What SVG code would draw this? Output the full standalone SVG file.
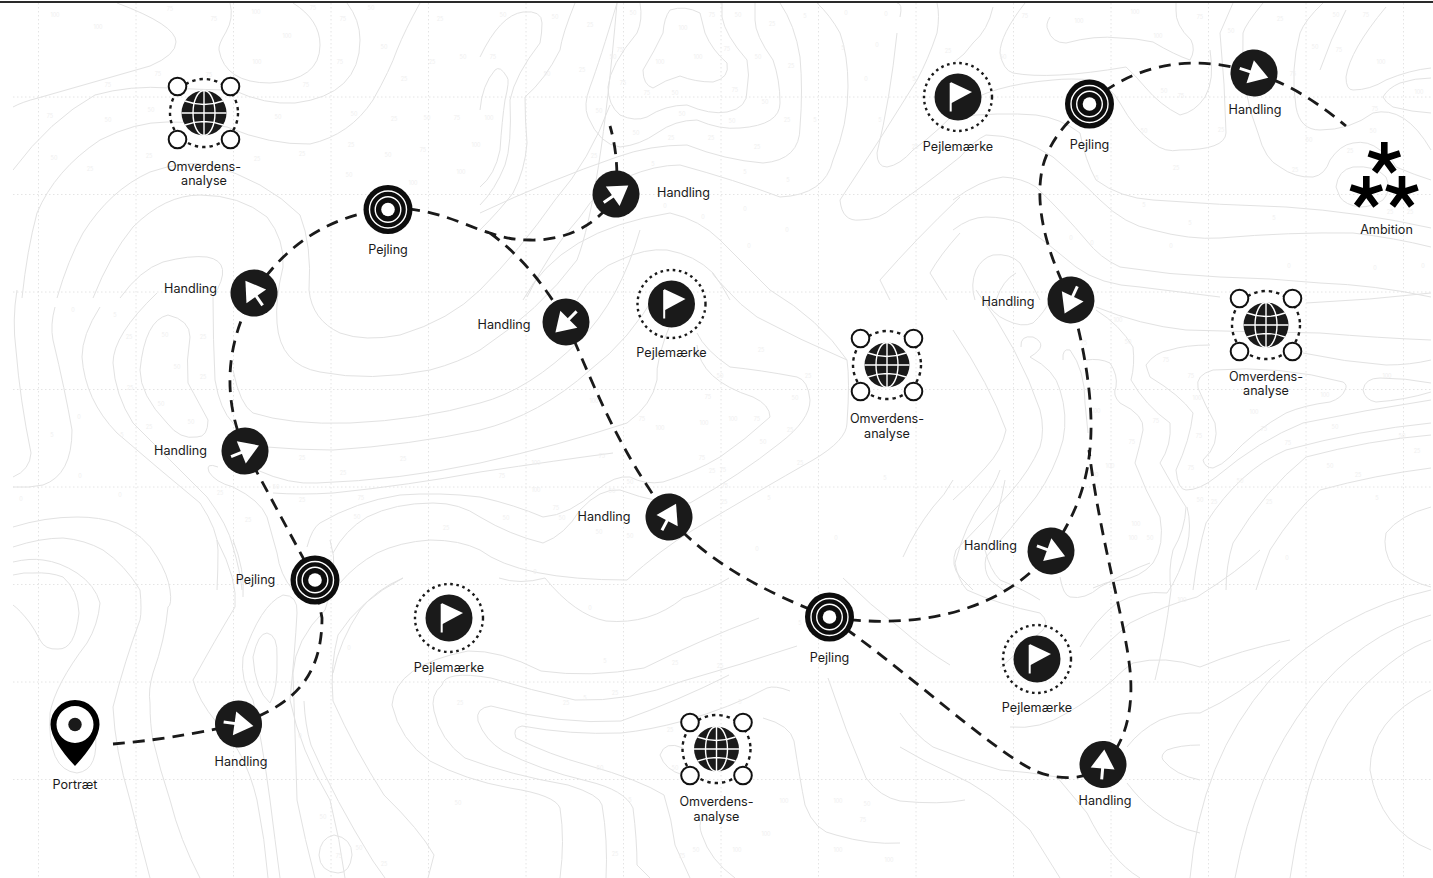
<svg xmlns="http://www.w3.org/2000/svg" width="1433" height="878" viewBox="0 0 1433 878">
<style>
text{font-family:Inter,"Liberation Sans",sans-serif}
.l{font-size:12.6px;fill:#1a1a1a;text-anchor:middle}
.n{font-size:5.5px;fill:#efefef;text-anchor:middle}
.grid{stroke:#e4e4e4;stroke-width:1;stroke-dasharray:1.5 2.5;fill:none}
.contour{stroke:#e2e2e2;stroke-width:1;fill:none}
.conn{stroke:#1a1a1a;stroke-width:2.8;stroke-dasharray:12 8;fill:none}
.ink{fill:#1a1a1a}
.w{stroke:#fff;fill:none}
.wf{fill:#fff}
</style>
<defs>
<clipPath id="cp"><rect x="13" y="3" width="1420" height="875"/></clipPath>
<g id="arrow"><circle r="23.500" class="ink"/><path d="M-15,0H1" class="w" stroke-width="3"/><path d="M-4,-12L15,0L-4,12Z" class="wf"/></g>
<g id="target"><circle r="24.500" fill="#0d0d0d"/><circle r="18.500" class="w" stroke-width="1.400"/><circle r="12.800" class="w" stroke-width="1.400"/><circle r="6.800" class="wf"/></g>
<g id="flag"><circle r="34" fill="none" stroke="#1a1a1a" stroke-width="2.400" stroke-dasharray="2.600 3.600"/><circle r="23.500" class="ink"/><path d="M-7.300,14.500V-14" class="w" stroke-width="2"/><path d="M-7.300,-15L14,-5L-7.300,6.500Z" class="wf"/></g>
<g id="globe"><circle r="34" fill="none" stroke="#1a1a1a" stroke-width="2.400" stroke-dasharray="3.400 4"/><circle r="22.500" class="ink"/><ellipse rx="11" ry="22.500" class="w" stroke-width="1.400"/><path d="M0,-22.500V22.500M-22.500,0H22.500M-19,-12Q0,-5 19,-12M-19,12Q0,5 19,12" class="w" stroke-width="1.400"/><g fill="#fff" stroke="#111" stroke-width="2"><circle cx="-26.500" cy="-26.500" r="8.800"/><circle cx="26.500" cy="-26.500" r="8.800"/><circle cx="-26.500" cy="26.500" r="8.800"/><circle cx="26.500" cy="26.500" r="8.800"/></g></g>
<g id="star" stroke="#000" stroke-width="6.600"><path d="M0,0V-16.500M0,0L15.700,-5.100M0,0L9.700,13.300M0,0L-9.700,13.300M0,0L-15.700,-5.100"/></g>
</defs>
<rect width="1433" height="878" fill="#fff"/>
<g id="background">
<path class="grid" d="M13,97H1433M13,194.500H1433M13,292H1433M13,389.500H1433M13,487H1433M13,584.500H1433M13,682H1433M13,779.500H1433M38.500,3V878M136,3V878M233.500,3V878M331,3V878M428.500,3V878M526,3V878M623.500,3V878M721,3V878M818.500,3V878M916,3V878M1013.500,3V878M1111,3V878M1208.500,3V878M1306,3V878M1403.500,3V878"/>
<g clip-path="url(#cp)" class="contour">
<path d="M117,3Q176,25 176,42Q176,55 150,66L38,98Q22,102 13,107"/>
<path d="M230,3Q234,18 226,32Q218,45 219,50Q225,83 270,83Q320,80 320,45Q320,20 293,3"/>
<path d="M13,170Q50,120 95,95Q130,85 170,88Q210,90 233,90Q265,105 295,103Q360,95 360,40Q360,20 347,3"/>
<path d="M22,298Q27,250 37,213Q55,170 100,140Q135,122 167,122Q200,122 227,127Q270,145 310,144Q350,135 373,100Q390,70 397,50Q405,30 420,3"/>
<path d="M57,298Q68,260 83,233Q110,190 150,172Q185,160 210,165Q265,180 300,215Q312,245 309,290Q312,320 340,333Q365,342 400,335Q450,320 480,290Q520,250 555,200Q590,160 610,105"/>
<path d="M93,298Q110,255 133,227Q165,195 200,195Q240,195 267,217Q285,240 283,267Q275,300 277,323Q280,365 320,372Q370,382 430,370Q460,362 480,350Q540,310 577,260Q600,200 617,3"/>
<path d="M120,298Q140,270 163,262Q190,255 207,257Q235,262 213,297Q213,340 215,380Q220,410 233,423"/>
<path d="M17,290Q12,320 16,350Q20,400 31,453Q30,470 13,477"/>
<path d="M55,307Q50,325 53,340Q65,390 72,430Q72,475 43,485Q30,488 13,487"/>
<path d="M100,307Q82,335 82,357Q85,400 117,433Q160,470 200,503Q218,530 218,550Q218,570 217,590"/>
<path d="M157,293Q113,335 113,363Q115,395 133,423Q170,460 207,497Q228,525 233,547Q240,570 242,590"/>
<path d="M168,315Q190,320 190,337Q186,360 188,383Q200,405 208,420Q208,437 197,437Q180,440 167,423Q140,395 140,370Q145,320 168,315Z"/>
<path d="M233,370Q240,405 253,413Q290,425 350,423Q420,420 480,403Q530,390 580,340Q620,300 640,230"/>
<path d="M267,447Q300,450 333,450Q410,445 480,430Q540,415 590,370Q630,340 658,290"/>
<path d="M257,470Q290,485 317,483Q400,480 480,463Q560,445 627,423Q652,405 657,380Q655,360 672,320"/>
<path d="M273,493Q300,495 333,493Q410,485 480,472Q560,460 613,453"/>
<path d="M218,467Q205,462 209,472Q215,482 233,487Q260,500 267,517Q272,535 277,553Q280,575 293,590"/>
<path d="M307,547Q312,528 320,523Q355,502 400,495Q440,492 480,497Q515,505 543,517Q570,515 597,490Q615,475 630,477Q645,485 663,482Q695,472 720,457Q745,440 770,417Q770,405 753,397Q700,380 697,345"/>
<path d="M333,553Q345,530 367,517Q395,503 433,503Q460,503 480,517Q510,535 543,543Q565,535 580,510Q600,488 620,490Q660,505 690,503Q740,475 780,443Q810,420 810,400Q808,380 797,377Q760,370 730,367Q705,350 697,333"/>
<path d="M340,583Q355,565 377,553Q400,542 430,540Q460,540 480,550Q520,580 627,580Q660,550 693,530Q760,490 813,460Q847,440 847,423Q850,380 847,360Q800,340 757,317Q740,305 727,290Q710,272 713,273"/>
<path d="M13,527Q45,517 77,517Q100,517 117,523Q145,535 157,557Q168,575 170,590Q172,605 168,607Q165,640 153,673Q148,690 150,703Q150,725 153,740Q160,770 170,800Q180,840 200,878"/>
<path d="M13,547Q40,538 63,538Q85,540 103,550Q125,565 140,590Q142,610 140,620Q125,660 113,707Q115,750 130,800Q140,840 150,878"/>
<path d="M13,562Q30,558 43,560Q60,562 77,573Q95,585 100,603Q98,625 87,643Q55,685 50,713Q47,770 77,773Q100,770 95,730"/>
<path d="M13,575Q25,572 33,573Q50,572 63,577Q78,590 79,613Q75,650 58,649Q45,650 40,640Q35,630 30,623Q20,610 13,605"/>
<path d="M253,657Q258,633 267,633Q278,635 277,657Q278,690 270,703Q255,690 253,657Z"/>
<path d="M243,657Q260,605 283,595Q298,595 297,613Q295,650 290,700Q300,750 330,800Q340,840 345,878"/>
<path d="M243,657Q240,680 253,700Q262,740 270,800Q275,840 280,878"/>
<path d="M217,540Q238,580 235,607Q215,640 193,680Q198,700 217,723Q245,750 257,800Q265,840 268,878"/>
<path d="M233,540Q245,570 243,597"/>
<path d="M330,540Q340,570 325,610Q295,640 293,673Q295,730 297,800Q305,840 315,878"/>
<path d="M333,673Q340,640 360,610Q375,590 403,578Q360,600 338,635Q330,665 333,701Q355,750 384,795Q420,830 434,855L428,878"/>
<path d="M304,701Q305,725 311,745Q335,800 373,861L385,878"/>
<path d="M334,835Q352,838 352,855Q350,873 338,873Q320,872 319,855Q320,838 334,835Z"/>
<path d="M759,618Q700,640 644,668Q590,678 541,671Q500,650 468,651Q395,665 392,705Q400,740 430,761Q465,780 510,788Q555,795 560,808Q565,840 560,878"/>
<path d="M797,646Q740,665 683,681Q630,702 575,700Q530,690 491,678Q445,670 442,685Q430,695 434,711Q440,740 465,758Q510,775 568,785Q600,795 602,805Q608,840 606,878"/>
<path d="M729,675Q680,700 621,721Q560,725 491,706Q475,708 478,721Q485,740 503,751Q540,770 587,781Q625,790 633,808Q637,840 637,865L650,878"/>
<path d="M790,691Q775,685 767,688Q730,708 683,721Q650,730 621,733Q570,735 522,726Q512,728 516,738Q550,755 587,765Q640,780 664,795Q672,820 675,845L690,878"/>
<path d="M763,718Q790,725 794,741Q800,780 805,805Q815,832 836,835Q870,845 900,843"/>
<path d="M683,748Q665,740 660,755Q665,770 683,775M702,818Q698,825 702,835Q710,860 735,878"/>
<path d="M499,578Q520,585 545,578Q575,615 606,621Q650,625 683,598Q710,590 729,578"/>
<path d="M843,578Q870,605 900,628Q925,650 950,665M828,678Q845,730 866,778Q880,797 900,801Q940,805 965,800"/>
<path d="M480,187Q495,175 500,150Q502,120 505,100Q510,80 507,77Q500,65 495,70Q482,85 480,110"/>
<path d="M480,57Q500,15 523,12Q542,10 542,23Q542,33 540,43Q515,75 510,100Q512,145 505,165Q495,190 480,205"/>
<path d="M575,3Q562,35 560,50Q545,80 525,97Q525,120 527,143Q525,170 513,193Q500,210 480,230"/>
<path d="M670,10Q685,5 700,13Q703,25 705,33Q712,50 727,63Q730,78 713,82Q695,82 680,76Q665,80 653,88Q643,85 643,70Q655,50 663,33Q664,18 670,10Z"/>
<path d="M640,3Q643,20 637,33Q610,65 608,87Q608,105 620,115Q635,122 647,117Q665,105 687,105Q710,115 727,112Q748,108 747,90Q750,75 747,60Q725,35 722,17V3"/>
<path d="M617,3Q600,60 590,87Q583,105 588,117Q600,145 620,147Q640,145 657,133Q675,120 697,120Q720,130 740,128Q780,125 780,103Q780,80 773,60Q755,35 755,20V3"/>
<path d="M480,213Q550,180 617,157Q650,145 687,145Q725,160 763,163Q800,160 800,127Q803,90 800,57Q795,25 780,3"/>
<path d="M527,297Q550,250 580,217Q600,185 627,177Q655,165 680,165Q735,180 780,197Q825,195 833,160Q848,125 848,87Q848,55 840,33Q830,15 817,3"/>
<path d="M523,300Q560,230 670,213Q700,220 720,240Q745,265 770,290Q820,320 847,360"/>
<path d="M577,300Q595,268 620,260Q645,248 667,250Q695,255 713,273Q722,285 730,300"/>
<path d="M900,17Q903,3 897,3M897,33Q890,100 877,153Q877,167 887,167Q900,165 913,150Q940,130 960,107Q990,85 1053,80Q1070,78 1093,80Q1110,85 1120,103Q1135,130 1153,143Q1165,153 1180,150Q1225,150 1226,133Q1225,85 1220,33L1233,3"/>
<path d="M937,3Q940,15 937,33Q928,60 917,80Q880,140 840,200Q842,222 860,220Q880,220 893,207Q925,185 960,157Q975,140 986,135Q1020,135 1053,157Q1080,180 1100,200Q1125,225 1153,230Q1190,240 1220,238Q1290,232 1353,233Q1395,238 1431,247"/>
<path d="M960,197Q915,240 880,280L890,300"/>
<path d="M960,233Q940,255 930,273L947,300"/>
<path d="M993,7Q988,30 973,43Q965,55 953,63"/>
<path d="M1025,3Q1000,35 1000,53Q1003,70 1013,73Q1050,80 1126,67Q1135,75 1145,87Q1160,105 1180,115Q1195,112 1205,97Q1215,80 1210,50"/>
<path d="M1050,17Q1045,25 1048,30Q1052,43 1066,43Q1095,35 1120,38Q1135,38 1153,42Q1175,55 1190,60Q1196,50 1191,40Q1175,25 1176,10V3"/>
<path d="M953,117Q1000,112 1036,115Q1060,118 1080,133Q1085,160 1096,180Q1120,198 1153,200Q1220,205 1286,207Q1360,212 1431,228"/>
<path d="M953,200Q980,180 1003,177Q1022,178 1036,187Q1065,215 1086,240Q1100,258 1120,267Q1170,275 1220,277Q1270,278 1320,283Q1375,285 1431,297"/>
<path d="M953,230Q970,217 986,217Q1005,217 1020,223Q1050,245 1076,267Q1100,285 1140,287Q1180,292 1220,297"/>
<path d="M1263,3Q1245,25 1243,33Q1240,90 1258,133Q1265,160 1280,167Q1295,178 1313,177Q1325,175 1330,160Q1340,145 1353,143Q1368,140 1380,150Q1390,155 1396,167Q1415,175 1431,180"/>
<path d="M1323,3Q1305,20 1300,33Q1290,70 1296,107Q1300,130 1320,130Q1350,130 1373,113Q1405,105 1431,150"/>
<path d="M1346,10Q1330,40 1320,70"/>
<path d="M1386,7Q1350,50 1346,77Q1346,90 1353,90Q1370,90 1386,80Q1410,70 1431,68"/>
<path d="M1431,78Q1415,78 1400,83Q1388,88 1383,97Q1385,102 1393,107Q1412,112 1431,113"/>
<path d="M1336,187Q1338,170 1353,167Q1375,165 1386,177Q1392,190 1383,200Q1372,207 1360,207Q1345,205 1340,197Z"/>
<path d="M975,300Q970,285 976,270Q982,258 993,255Q1010,253 1020,263Q1030,280 1040,300"/>
<path d="M996,300Q1003,280 1016,273"/>
<path d="M983,297Q993,315 1006,320Q1022,328 1033,323Q1045,312 1050,300"/>
<path d="M953,330Q990,385 1006,430Q1002,450 986,467Q970,485 953,500"/>
<path d="M976,290Q1020,350 1040,410Q1045,430 1040,447Q1030,470 1010,493Q985,520 956,550Q950,565 960,577L973,590"/>
<path d="M1021,347Q1020,335 1033,337Q1050,345 1030,357Q1055,370 1060,390Q1068,415 1063,440Q1055,470 1036,497Q1010,530 986,557Q983,570 990,580L1003,590"/>
<path d="M1063,360Q1062,348 1070,350Q1085,370 1085,403L1088,433"/>
<path d="M1086,360Q1100,358 1110,363Q1118,375 1116,387Q1112,395 1120,403Q1145,415 1143,430Q1140,445 1135,463Q1145,490 1160,517Q1165,545 1153,563Q1140,578 1120,580Q1105,582 1093,588"/>
<path d="M1096,310Q1120,325 1133,347Q1135,365 1131,380Q1145,405 1170,423Q1172,445 1160,463Q1175,490 1186,507Q1185,530 1173,550Q1168,570 1171,590Q1165,640 1155,680"/>
<path d="M1146,365Q1155,352 1170,350Q1185,345 1210,345M1146,365Q1148,372 1150,377Q1180,395 1193,413Q1190,440 1176,470Q1178,490 1186,490Q1200,490 1216,477Q1260,440 1303,423Q1365,410 1431,400"/>
<path d="M1198,388Q1195,375 1213,370Q1280,365 1343,382Q1348,385 1345,390Q1342,398 1330,402Q1305,405 1286,413Q1255,430 1230,457Q1222,465 1213,468Q1205,468 1203,460Q1220,445 1215,423Q1205,405 1198,388Z"/>
<path d="M1431,383Q1405,378 1380,378Q1365,378 1363,390Q1365,400 1376,402Q1405,400 1431,392"/>
<path d="M1193,590Q1198,550 1206,523Q1240,470 1286,450Q1360,430 1431,423"/>
<path d="M1226,590Q1226,565 1233,543Q1265,490 1306,457Q1370,440 1431,435"/>
<path d="M1256,590Q1262,570 1270,550Q1295,510 1320,490Q1375,475 1431,468"/>
<path d="M1431,507Q1400,515 1386,533Q1382,550 1393,567Q1410,582 1431,587"/>
<path d="M1096,307Q1140,325 1186,330Q1250,332 1320,333Q1380,338 1431,340"/>
<path d="M1303,353Q1345,362 1386,365Q1410,365 1431,360"/>
<path d="M1306,303Q1370,300 1431,293"/>
<path d="M903,557Q915,530 933,507Q945,495 953,480"/>
<path d="M955,563Q965,525 983,500Q995,485 1000,470M955,563Q958,580 967,590Q1000,605 1040,613Q1050,622 1043,630Q1020,650 1000,668"/>
<path d="M985,550Q1000,510 1005,480M985,550Q990,570 1000,580Q1025,590 1040,600"/>
<path d="M1060,577Q1063,595 1070,597Q1085,600 1100,587Q1130,570 1150,563"/>
<path d="M1080,647Q1095,620 1117,603Q1140,590 1167,593Q1180,575 1187,547Q1192,525 1187,507"/>
<path d="M1090,660Q1110,640 1130,623Q1165,605 1197,597Q1240,570 1260,550"/>
<path d="M1010,727Q1040,730 1067,713Q1090,700 1113,680Q1125,668 1133,663Q1165,655 1200,667Q1240,650 1290,640"/>
<path d="M1127,747Q1140,730 1160,720Q1180,712 1200,713Q1240,695 1280,660"/>
<path d="M900,713Q915,735 933,747Q965,760 1000,770Q1030,772 1057,777Q1072,795 1087,813Q1110,860 1140,878"/>
<path d="M900,747Q925,762 950,773Q990,790 1030,830L1060,878"/>
<path d="M1127,783Q1140,800 1153,810Q1175,828 1200,833"/>
<path d="M1200,745Q1180,745 1167,750Q1160,755 1163,760Q1175,775 1200,780"/>
<path d="M1190,878Q1200,760 1270,680Q1340,610 1431,590"/>
<path d="M1290,878Q1310,740 1360,690Q1400,650 1431,640"/>
<path d="M1431,690Q1370,720 1370,770Q1380,830 1431,850"/>
<path d="M1235,878Q1255,770 1310,700Q1360,635 1431,615"/>
</g>
<g class="n">
<text x="55" y="17">100</text><text x="98" y="29">100</text><text x="170" y="11">75</text><text x="214" y="21">75</text><text x="256" y="14">100</text><text x="287" y="38">100</text><text x="313" y="10">75</text><text x="343" y="21">75</text><text x="371" y="10">50</text><text x="440" y="21">25</text><text x="257" y="64">100</text><text x="340" y="64">75</text><text x="384" y="49">50</text><text x="432" y="64">25</text><text x="463" y="59">50</text><text x="493" y="59">75</text><text x="158" y="76">75</text><text x="209" y="77">75</text><text x="108" y="87">75</text><text x="306" y="87">75</text><text x="404" y="81">25</text><text x="50" y="118">75</text><text x="108" y="122">50</text><text x="151" y="112">50</text><text x="278" y="119">50</text><text x="354" y="116">50</text><text x="394" y="121">25</text><text x="427" y="120">50</text><text x="457" y="120">75</text><text x="489" y="120">100</text><text x="54" y="160">50</text><text x="90" y="171">25</text><text x="149" y="158">25</text><text x="257" y="161">25</text><text x="302" y="156">25</text><text x="351" y="147">25</text><text x="388" y="157">50</text><text x="423" y="152">75</text><text x="476" y="147">100</text><text x="349" y="177">50</text><text x="413" y="185">100</text><text x="461" y="174">100</text>
<text x="73" y="312">0</text><text x="115" y="317">5</text><text x="129" y="339">25</text><text x="165" y="337">50</text><text x="203" y="339">25</text><text x="177" y="369">50</text><text x="203" y="379">25</text><text x="130" y="390">25</text><text x="161" y="406">50</text><text x="191" y="424">50</text><text x="149" y="429">25</text><text x="52" y="437">5</text><text x="79" y="419">0</text><text x="122" y="437">5</text><text x="80" y="478">0</text><text x="120" y="497">0</text><text x="21" y="501">0</text><text x="220" y="495">25</text><text x="248" y="522">25</text><text x="276" y="489">50</text><text x="302" y="502">25</text><text x="302" y="460">25</text><text x="343" y="475">25</text><text x="403" y="461">25</text><text x="361" y="500">75</text><text x="357" y="519">50</text><text x="446" y="530">25</text>
<text x="503" y="17">50</text><text x="555" y="19">50</text><text x="590" y="27">25</text><text x="633" y="15">50</text><text x="712" y="17">75</text><text x="738" y="17">50</text><text x="772" y="26">25</text><text x="805" y="18">5</text><text x="846" y="15">0</text><text x="886" y="16">0</text><text x="683" y="30">100</text><text x="620" y="52">75</text><text x="727" y="51">75</text><text x="698" y="59">100</text><text x="613" y="59">50</text><text x="758" y="59">50</text><text x="660" y="64">100</text><text x="791" y="68">25</text><text x="582" y="72">25</text><text x="547" y="76">50</text><text x="623" y="85">75</text><text x="735" y="92">75</text><text x="647" y="95">75</text><text x="765" y="104">50</text><text x="675" y="95">50</text><text x="599" y="113">50</text><text x="682" y="116">50</text><text x="732" y="123">50</text><text x="787" y="122">25</text><text x="636" y="135">50</text><text x="671" y="140">25</text><text x="711" y="140">25</text><text x="757" y="149">25</text><text x="594" y="158">25</text><text x="653" y="166">5</text><text x="745" y="174">5</text><text x="788" y="182">5</text><text x="665" y="208">0</text><text x="745" y="211">0</text><text x="703" y="219">0</text><text x="787" y="232">0</text><text x="749" y="248">0</text><text x="815" y="122">5</text><text x="880" y="122">5</text><text x="866" y="81">0</text><text x="914" y="81">5</text><text x="843" y="50">5</text><text x="877" y="47">0</text><text x="915" y="149">25</text><text x="948" y="53">25</text>
<text x="1003" y="59">50</text><text x="1025" y="18">75</text><text x="1079" y="23">100</text><text x="1135" y="14">100</text><text x="1158" y="38">100</text><text x="1200" y="19">75</text><text x="1231" y="33">50</text><text x="1280" y="21">25</text><text x="1336" y="17">50</text><text x="1366" y="17">75</text><text x="1381" y="64">100</text><text x="1315" y="49">50</text><text x="1339" y="52">75</text><text x="1419" y="94">100</text><text x="1274" y="76">50</text><text x="1293" y="76">75</text><text x="1181" y="98">75</text><text x="1144" y="133">50</text><text x="1164" y="93">50</text><text x="1375" y="111">75</text><text x="1373" y="133">50</text><text x="1309" y="142">50</text><text x="1350" y="153">25</text><text x="1221" y="132">25</text><text x="1295" y="172">25</text><text x="1176" y="170">25</text><text x="1097" y="180">5</text><text x="1144" y="207">5</text><text x="1190" y="225">5</text><text x="1274" y="220">5</text><text x="1410" y="214">25</text><text x="1390" y="214">25</text><text x="1071" y="240">0</text><text x="1092" y="245">0</text><text x="1171" y="248">0</text><text x="1289" y="268">0</text><text x="1375" y="270">0</text><text x="1423" y="268">0</text>
<text x="1128" y="344">50</text><text x="1118" y="322">100</text><text x="1084" y="345">75</text><text x="1096" y="413">100</text><text x="1132" y="444">75</text><text x="1110" y="468">100</text><text x="1197" y="400">100</text><text x="1166" y="362">75</text><text x="1191" y="378">75</text><text x="1156" y="423">75</text><text x="1199" y="438">75</text><text x="1191" y="470">75</text><text x="1254" y="414">100</text><text x="1264" y="431">75</text><text x="1288" y="445">75</text><text x="1335" y="429">50</text><text x="1330" y="468">50</text><text x="1358" y="477">25</text><text x="1387" y="378">100</text><text x="1325" y="397">100</text><text x="1402" y="438">50</text><text x="1417" y="453">25</text><text x="1269" y="504">25</text><text x="1240" y="483">50</text><text x="1182" y="602">100</text><text x="1133" y="540">100</text><text x="1094" y="477">100</text><text x="1136" y="526">100</text><text x="1150" y="540">50</text><text x="1200" y="502">50</text><text x="1214" y="504">25</text><text x="1287" y="560">0</text><text x="1377" y="500">5</text>
<text x="594" y="403">100</text><text x="660" y="430">100</text><text x="704" y="425">100</text><text x="733" y="421">100</text><text x="708" y="399">75</text><text x="757" y="421">75</text><text x="642" y="421">75</text><text x="602" y="458">75</text><text x="536" y="465">100</text><text x="502" y="478">75</text><text x="536" y="492">100</text><text x="556" y="510">75</text><text x="506" y="520">50</text><text x="562" y="520">50</text><text x="630" y="484">50</text><text x="702" y="460">75</text><text x="763" y="444">50</text><text x="795" y="400">50</text><text x="808" y="378">25</text><text x="761" y="352">25</text><text x="720" y="378">50</text><text x="725" y="488">75</text><text x="723" y="472">75</text><text x="670" y="523">75</text><text x="612" y="493">50</text><text x="599" y="534">50</text><text x="630" y="538">50</text><text x="712" y="473">25</text><text x="800" y="465">25</text><text x="790" y="432">25</text><text x="724" y="504">25</text><text x="757" y="551">0</text><text x="836" y="540">0</text><text x="769" y="500">5</text><text x="885" y="480">5</text><text x="870" y="378">5</text>
<text x="467" y="628">5</text><text x="300" y="738">0</text><text x="349" y="650">0</text><text x="535" y="574">0</text><text x="590" y="610">0</text><text x="800" y="625">5</text><text x="605" y="663">5</text><text x="585" y="700">5</text><text x="675" y="665">25</text><text x="615" y="695">25</text><text x="740" y="704">5</text><text x="720" y="668">25</text><text x="670" y="732">25</text><text x="675" y="770">50</text><text x="600" y="770">50</text><text x="566" y="705">25</text><text x="460" y="705">25</text><text x="630" y="802">5</text><text x="784" y="803">100</text><text x="766" y="836">100</text><text x="737" y="852">100</text><text x="838" y="803">100</text><text x="867" y="806">50</text><text x="863" y="822">75</text><text x="838" y="852">100</text><text x="889" y="862">100</text><text x="696" y="852">50</text><text x="615" y="856">25</text><text x="682" y="858">75</text><text x="458" y="805">50</text><text x="339" y="858">75</text><text x="359" y="850">50</text><text x="323" y="819">50</text><text x="384" y="866">25</text></g>
</g>
<rect x="0" y="1" width="1433" height="2" fill="#2a2a2a"/>
<g id="connectors" class="conn">
<path d="M113,744C150,741 190,735 239,724"/>
<path d="M239,724C290,706 322,680 322,618L315,580"/>
<path d="M315,580L245,450"/>
<path d="M245,450C225,405 222,350 254,293"/>
<path d="M254,293C285,245 330,215 388,209"/>
<path d="M388,209C430,205 470,228 490,233C505,238 515,240 530,240C565,241 600,225 616,194"/>
<path d="M616,194C618,175 617,150 610,126"/>
<path d="M490,233C520,255 545,285 566,322"/>
<path d="M566,322C592,380 615,445 669,517"/>
<path d="M669,517C705,560 760,590 829,617"/>
<path d="M829,617C910,630 1000,615 1051,551"/>
<path d="M1051,551C1080,510 1092,470 1091,420C1090,380 1082,340 1071,300"/>
<path d="M829,617C900,665 985,745 1033,770C1055,780 1085,782 1103,765"/>
<path d="M1103,765C1125,745 1134,710 1130,670C1125,620 1100,540 1089,450"/>
<path d="M1071,300C1045,250 1035,205 1042,170C1046,150 1060,125 1089,104"/>
<path d="M1089,104C1125,70 1185,50 1254,73"/>
<path d="M1254,73C1285,82 1315,100 1346,126"/>
</g>
<g id="portraet"><path fill-rule="evenodd" d="M75,700A24.500,24.500 0 0 1 99.500,724.500C99.500,737 87,753 75,766C63,753 50.500,737 50.500,724.500A24.500,24.500 0 0 1 75,700ZM75,706A18.500,18.500 0 1 0 75,743A18.500,18.500 0 1 0 75,706Z" fill="#000"/><circle cx="75" cy="724.500" r="6.700" class="ink"/><text class="l" x="75" y="789">Portræt</text></g>
<g id="h1"><use href="#arrow" transform="translate(238.500,724) rotate(8)"/><text class="l" x="241" y="766">Handling</text></g>
<g id="p1"><use href="#target" transform="translate(315,580)"/><text class="l" x="255.500" y="584">Pejling</text></g>
<g id="h2"><use href="#arrow" transform="translate(245,451) rotate(-22)"/><text class="l" x="180.500" y="455">Handling</text></g>
<g id="h3"><use href="#arrow" transform="translate(254,293) rotate(-125)"/><text class="l" x="190.500" y="293">Handling</text></g>
<g id="p2"><use href="#target" transform="translate(388,209.500)"/><text class="l" x="388" y="254">Pejling</text></g>
<g id="h4"><use href="#arrow" transform="translate(616,194) rotate(-35)"/><text class="l" x="683.500" y="197">Handling</text></g>
<g id="h5"><use href="#arrow" transform="translate(566,322) rotate(135)"/><text class="l" x="504" y="329">Handling</text></g>
<g id="h6"><use href="#arrow" transform="translate(669,517) rotate(-62)"/><text class="l" x="604" y="521">Handling</text></g>
<g id="p3"><use href="#target" transform="translate(829.500,617)"/><text class="l" x="829.500" y="662">Pejling</text></g>
<g id="h7"><use href="#arrow" transform="translate(1051,551) rotate(20)"/><text class="l" x="990.500" y="550">Handling</text></g>
<g id="h8"><use href="#arrow" transform="translate(1103,764.500) rotate(-85)"/><text class="l" x="1105" y="805">Handling</text></g>
<g id="h9"><use href="#arrow" transform="translate(1071,300) rotate(115)"/><text class="l" x="1008" y="306">Handling</text></g>
<g id="p4"><use href="#target" transform="translate(1089.500,104)"/><text class="l" x="1089.500" y="149">Pejling</text></g>
<g id="h10"><use href="#arrow" transform="translate(1254,73) rotate(18)"/><text class="l" x="1255" y="114">Handling</text></g>
<g id="m1"><use href="#flag" transform="translate(449,618)"/><text class="l" x="449" y="672">Pejlemærke</text></g>
<g id="m2"><use href="#flag" transform="translate(671.500,304)"/><text class="l" x="671.500" y="357">Pejlemærke</text></g>
<g id="m3"><use href="#flag" transform="translate(958,97)"/><text class="l" x="958" y="151">Pejlemærke</text></g>
<g id="m4"><use href="#flag" transform="translate(1037,659)"/><text class="l" x="1037" y="712">Pejlemærke</text></g>
<g id="o1"><use href="#globe" transform="translate(204,113)"/><text class="l" x="204" y="171">Omverdens-</text><text class="l" x="204" y="185">analyse</text></g>
<g id="o2"><use href="#globe" transform="translate(887,365)"/><text class="l" x="887" y="423">Omverdens-</text><text class="l" x="887" y="438">analyse</text></g>
<g id="o3"><use href="#globe" transform="translate(1266,325)"/><text class="l" x="1266" y="381">Omverdens-</text><text class="l" x="1266" y="395">analyse</text></g>
<g id="o4"><use href="#globe" transform="translate(716.500,749)"/><text class="l" x="716.500" y="806">Omverdens-</text><text class="l" x="716.500" y="821">analyse</text></g>
<g id="ambition"><use href="#star" transform="translate(1384.300,158.500)"/><use href="#star" transform="translate(1366.300,192.500)"/><use href="#star" transform="translate(1402,192.500)"/><text class="l" x="1386.500" y="234">Ambition</text></g>
</svg>
